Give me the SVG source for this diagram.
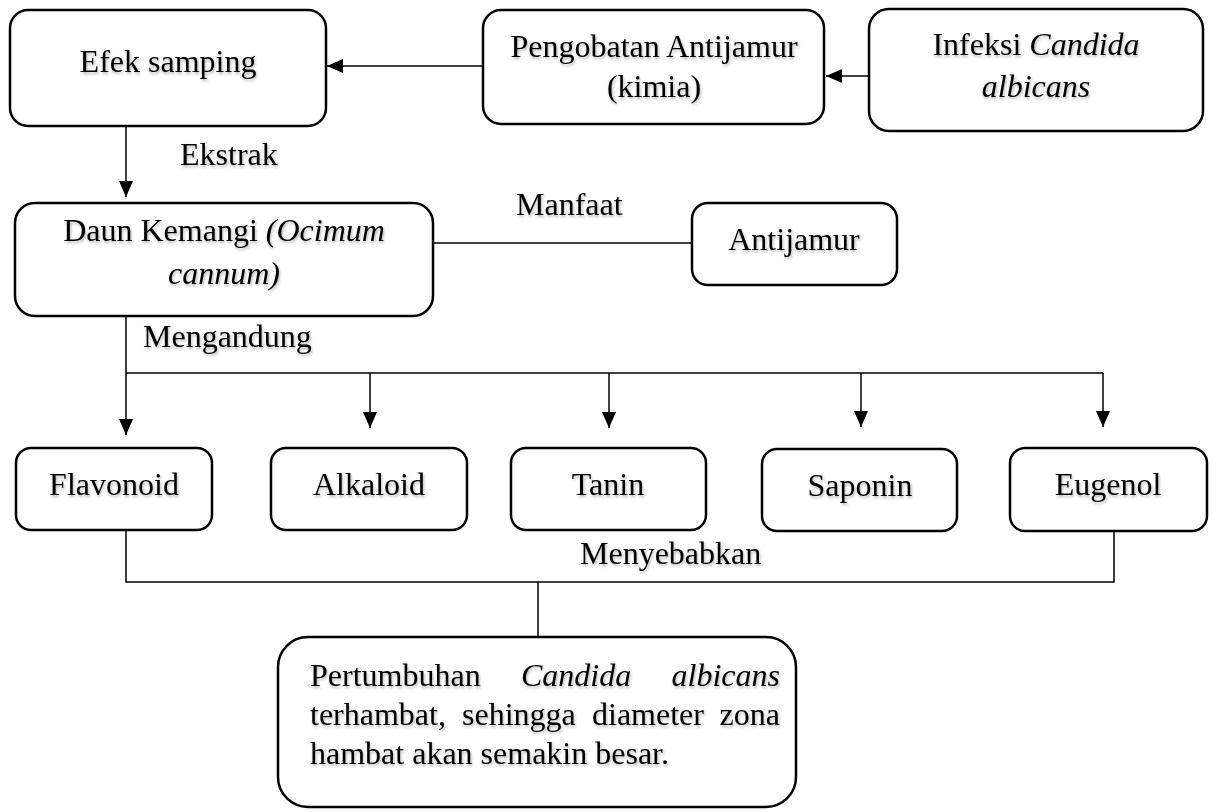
<svg xmlns="http://www.w3.org/2000/svg" width="1213" height="812" viewBox="0 0 1213 812">
<defs>
<filter id="sh" x="-10%" y="-30%" width="120%" height="160%">
<feDropShadow dx="1" dy="2" stdDeviation="1.4" flood-color="#000" flood-opacity="0.3"/>
</filter>
<marker id="ah" viewBox="0 0 16 14" refX="16" refY="7" markerWidth="16" markerHeight="14" markerUnits="userSpaceOnUse" orient="auto">
<path d="M0,0 L16,7 L0,14 Z" fill="#000"/>
</marker>
</defs>
<style>
rect.box{fill:#fff;stroke:#000;stroke-width:2.5}
text{font-family:"Liberation Serif","Times New Roman",serif;font-size:32px;fill:#000;filter:url(#sh)}
.c{text-anchor:middle}
.i{font-style:italic}
.ln{fill:none;stroke:#000;stroke-width:1.5}
.ar{fill:none;stroke:#000;stroke-width:1.5;marker-end:url(#ah)}
</style>
<rect width="1213" height="812" fill="#fff"/>
<g id="connectors">
<line class="ar" x1="483" y1="66" x2="327" y2="66"/>
<line class="ar" x1="868" y1="76" x2="826" y2="76"/>
<line class="ar" x1="126" y1="126" x2="126" y2="197"/>
<line class="ln" x1="433" y1="243" x2="692" y2="243"/>
<line class="ar" x1="126" y1="316" x2="126" y2="435"/>
<line class="ln" x1="126" y1="373" x2="1103" y2="373"/>
<line class="ar" x1="370" y1="373" x2="370" y2="428"/>
<line class="ar" x1="609" y1="373" x2="609" y2="428"/>
<line class="ar" x1="861" y1="373" x2="861" y2="427"/>
<line class="ar" x1="1103" y1="373" x2="1103" y2="427"/>
<polyline class="ln" points="126,530 126,582 1114,582 1114,531"/>
<line class="ln" x1="538" y1="582" x2="538" y2="637"/>
<text x="180" y="165">Ekstrak</text>
<text x="516" y="215">Manfaat</text>
<text x="143" y="347">Mengandung</text>
<text x="580" y="564">Menyebabkan</text>
</g>
<g id="efek">
<rect class="box" x="10" y="10" width="316" height="116" rx="18"/>
<text class="c" x="168" y="72">Efek samping</text>
</g>
<g id="pengobatan">
<rect class="box" x="483" y="10" width="341" height="114" rx="18"/>
<text class="c" x="654" y="57">Pengobatan Antijamur</text>
<text class="c" x="654" y="97">(kimia)</text>
</g>
<g id="infeksi">
<rect class="box" x="869" y="9" width="334" height="122" rx="20"/>
<text class="c" x="1036" y="55">Infeksi <tspan class="i">Candida</tspan></text>
<text class="c i" x="1036" y="97">albicans</text>
</g>
<g id="daun">
<rect class="box" x="15" y="203" width="418" height="113" rx="20"/>
<text class="c" x="224" y="241">Daun Kemangi <tspan class="i">(Ocimum</tspan></text>
<text class="c i" x="224" y="284">cannum)</text>
</g>
<g id="antijamur">
<rect class="box" x="692" y="203" width="205" height="82" rx="16"/>
<text class="c" x="794" y="250">Antijamur</text>
</g>
<g id="flavonoid">
<rect class="box" x="16" y="448" width="196" height="82" rx="15"/>
<text class="c" x="114" y="495">Flavonoid</text>
</g>
<g id="alkaloid">
<rect class="box" x="271" y="448" width="196" height="82" rx="15"/>
<text class="c" x="369" y="495">Alkaloid</text>
</g>
<g id="tanin">
<rect class="box" x="511" y="448" width="195" height="82" rx="15"/>
<text class="c" x="608" y="495">Tanin</text>
</g>
<g id="saponin">
<rect class="box" x="762" y="449" width="195" height="82" rx="15"/>
<text class="c" x="860" y="496">Saponin</text>
</g>
<g id="eugenol">
<rect class="box" x="1010" y="448" width="197" height="83" rx="15"/>
<text class="c" x="1108" y="495">Eugenol</text>
</g>
<g id="hasil">
<rect class="box" x="278" y="637" width="518" height="170" rx="30"/>
<text x="310" y="686">Pertumbuhan</text>
<text class="i" x="521" y="686">Candida</text>
<text class="i" x="780" y="686" text-anchor="end">albicans</text>
<text x="310" y="725">terhambat,</text>
<text x="462" y="725">sehingga</text>
<text x="592" y="725">diameter</text>
<text x="780" y="725" text-anchor="end">zona</text>
<text x="310" y="764">hambat akan semakin besar.</text>
</g>
</svg>
